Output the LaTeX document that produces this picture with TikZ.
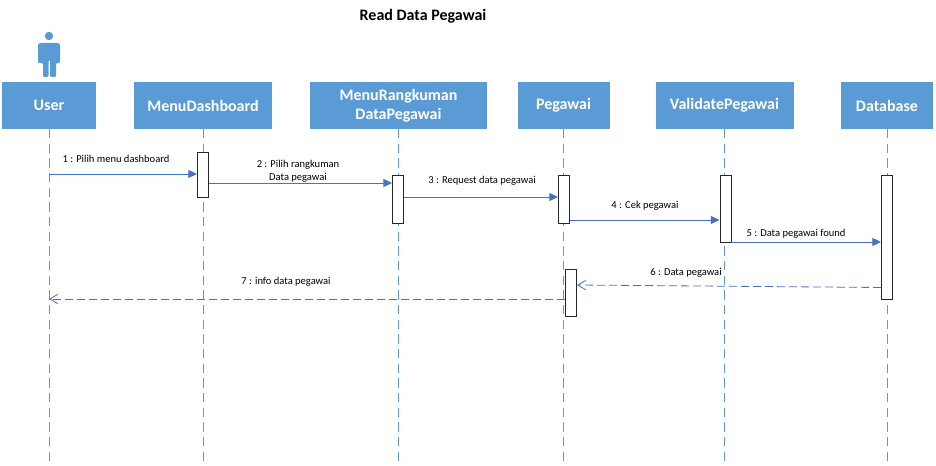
\documentclass[tikz,border=0pt]{standalone}
\usepackage{fontspec}
\setmainfont{Carlito}
\usepackage{tikz}
\usetikzlibrary{arrows.meta,positioning,calc}
\definecolor{headblue}{RGB}{91,155,213}
\definecolor{msgblue}{RGB}{68,114,196}
\tikzset{
  headbox/.style={fill=headblue,text=white,align=center,inner sep=0pt,font=\fontsize{12}{14.5}\selectfont\bfseries},
  lifeline/.style={draw=headblue,line width=0.6pt,dash pattern=on 7pt off 4pt},
  actbox/.style={draw=black!85,fill=white,line width=0.7pt,inner sep=0pt,minimum width=8.25pt},
  msg/.style={-{Triangle[length=6.5pt,width=6pt]},draw=msgblue,line width=0.7pt},
  retmsg/.style={-{Straight Barb[length=6pt,width=7pt]},draw=msgblue,line width=0.6pt,dash pattern=on 6pt off 3pt},
  lab/.style={font=\fontsize{7.9}{9.6}\selectfont,text=black,align=center,inner sep=0pt}
}
\begin{document}
\begin{tikzpicture}[x=0.75pt,y=-0.75pt]
  \useasboundingbox (0,0) rectangle (936,466);
  \node[font=\fontsize{12}{14}\selectfont\bfseries,inner sep=0pt] (title) at (423,16) {Read Data Pegawai};
  % actor
  \fill[headblue] (49,36) circle (4.2);
  \fill[headblue,rounded corners=0.8pt] (38,44) -- (40,43) -- (58,43) -- (60,44) -- (60,63) -- (56,63) -- (56,77) -- (50,77) -- (50,60) -- (48.5,60) -- (48.5,77) -- (43,77) -- (43,63) -- (38,63) -- cycle;
  % header boxes
  \node[headbox,minimum width=70.5pt,minimum height=35pt] (user) at (49,105.5) {User};
  \node[headbox,minimum width=103.5pt,minimum height=35pt] (dash) at (203,105.5) {MenuDashboard};
  \node[headbox,minimum width=132.5pt,minimum height=35pt] (rangkum) at (398.5,105.5) {MenuRangkuman\\DataPegawai};
  \node[headbox,minimum width=69pt,minimum height=35pt] (pegawai) at (563.5,105.5) {Pegawai};
  \node[headbox,minimum width=103.5pt,minimum height=35pt] (validate) at (724.5,105.5) {ValidatePegawai};
  \node[headbox,minimum width=69pt,minimum height=35pt] (db) at (887,105.5) {Database};
  % lifelines
  \foreach \n in {user,dash,rangkum,pegawai,validate,db}
    \draw[lifeline] (\n.south) -- (\n |- 0,462);
  % activations
  \node[actbox,minimum height=33.75pt] (act1) at (203,174.5) {};
  \node[actbox,minimum height=36pt] (act2) at (398,199) {};
  \node[actbox,minimum height=36pt] (act3) at (564,199) {};
  \node[actbox,minimum height=50.25pt] (act4) at (725.5,208.5) {};
  \node[actbox,minimum height=93pt] (act5) at (887,237) {};
  \node[actbox,minimum height=35.25pt] (act6) at (571,292.5) {};
  % messages
  \draw[msg] (user |- 0,174) -- (act1.west |- 0,174);
  \node[lab] (m1) at (116,158.5) {1 : Pilih menu dashboard};
  \draw[msg] (act1.east |- 0,183) -- (act2.west |- 0,183);
  \node[lab] (m2) at (298,171) {2 : Pilih rangkuman\\Data pegawai};
  \draw[msg] (act2.east |- 0,197) -- (act3.west |- 0,197);
  \node[lab] (m3) at (482,180.5) {3 : Request data pegawai};
  \draw[msg] (act3.east |- 0,220) -- (act4.west |- 0,220);
  \node[lab] (m4) at (645,205.5) {4 : Cek pegawai};
  \draw[msg] (act4.east |- 0,242) -- (act5.west |- 0,242);
  \node[lab] (m5) at (796,233.5) {5 : Data pegawai found};
  \draw[retmsg] (act5.west |- 0,287.5) -- (act6.east |- 0,285);
  \node[lab] (m6) at (686,272.5) {6 : Data pegawai};
  \draw[retmsg] (act6.west |- 0,299) -- (user |- 0,299);
  \node[lab] (m7) at (286,281.5) {7 : info data pegawai};
\end{tikzpicture}
\end{document}
